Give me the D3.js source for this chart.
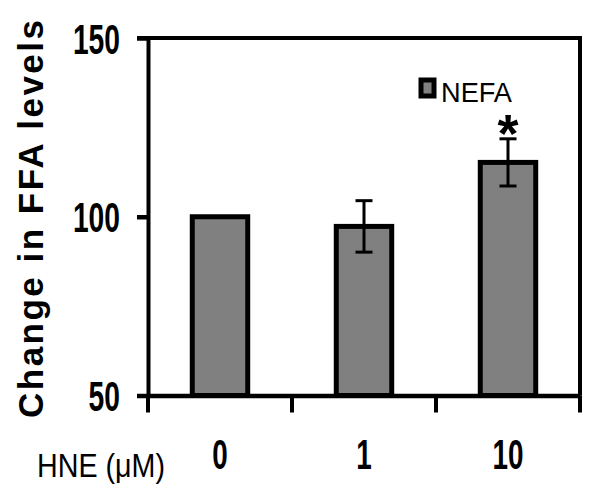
<!DOCTYPE html>
<html><head><meta charset="utf-8">
<script src="https://cdn.jsdelivr.net/npm/d3@7"></script>
<style>body{margin:0;background:#fff}svg{display:block}</style>
</head><body>
<svg id="c" width="602" height="503"></svg>
<script>
const categories = ["0", "1", "10"];
const means = [100, 97.3, 115.2];
const errors = [0, 7.2, 6.6];
const significant = [false, false, true];
const yTicks = [50, 100, 150];
const seriesName = "NEFA";
const xTitle = "HNE (\u03bcM)";
const yTitle = "Change in FFA levels";

const svg = d3.select("#c");
const font = "Arial, 'Liberation Sans', sans-serif";
const L = 148, R = 580, T = 38, B = 395.5;

const x = d3.scaleBand().domain(categories).range([L, R]).padding(0);
const y = d3.scaleLinear().domain([50, 150]).range([B, T]);

// bars
const bw = x.bandwidth() * 0.385;
svg.selectAll("rect.bar").data(categories).join("rect")
  .attr("class", "bar")
  .attr("x", (d) => x(d) + x.bandwidth() / 2 - bw / 2)
  .attr("width", bw)
  .attr("y", (d, i) => y(means[i]))
  .attr("height", (d, i) => B - y(means[i]))
  .attr("fill", "#808080").attr("stroke", "#000").attr("stroke-width", 5);

// error bars
const eb = svg.append("g").attr("stroke", "#000").attr("stroke-width", 3);
categories.forEach((c, i) => {
  if (!errors[i]) return;
  const cx = x(c) + x.bandwidth() / 2;
  eb.append("line").attr("x1", cx).attr("x2", cx).attr("y1", y(means[i] + errors[i])).attr("y2", y(means[i] - errors[i]));
  [1, -1].forEach(s => eb.append("line").attr("x1", cx - 8.5).attr("x2", cx + 8.5)
    .attr("y1", y(means[i] + s * errors[i])).attr("y2", y(means[i] + s * errors[i])));
});

// asterisks
categories.forEach((c, i) => {
  if (!significant[i]) return;
  svg.append("text").attr("x", x(c) + x.bandwidth() / 2).attr("y", y(means[i] + errors[i]) + 13)
    .attr("text-anchor", "middle").attr("font-family", font).attr("font-weight", "bold")
    .attr("font-size", 54).text("*");
});

// frame: top and right
svg.append("line").attr("x1", L - 11).attr("x2", R + 2).attr("y1", T).attr("y2", T).attr("stroke", "#000").attr("stroke-width", 4);
svg.append("line").attr("x1", R).attr("x2", R).attr("y1", T - 2).attr("y2", B).attr("stroke", "#000").attr("stroke-width", 4);

// y axis
const ya = svg.append("g").attr("transform", `translate(${L},0)`)
  .call(d3.axisLeft(y).tickValues(yTicks).tickSize(11).tickSizeOuter(0));
ya.select(".domain").attr("stroke-width", 4);
ya.selectAll(".tick line").attr("stroke-width", 4.5);
ya.selectAll(".tick text")
  .attr("x", -28).attr("dy", null).attr("y", 15)
  .attr("font-family", font).attr("font-weight", "bold").attr("font-size", 42).attr("fill", "#000")
  .attr("textLength", d => String(d).length * 15.7).attr("lengthAdjust", "spacingAndGlyphs");

// x axis
const xa = svg.append("g").attr("transform", `translate(0,${B})`)
  .call(d3.axisBottom(x).tickSize(0).tickSizeOuter(0));
xa.select(".domain").attr("stroke-width", 4.5);
xa.selectAll(".tick text")
  .attr("y", 73).attr("dy", null)
  .attr("font-family", font).attr("font-weight", "bold").attr("font-size", 42).attr("fill", "#000")
  .attr("textLength", d => d.length * 15.5).attr("lengthAdjust", "spacingAndGlyphs");
const bounds = categories.map(c => x(c)).concat([x(categories[categories.length - 1]) + x.bandwidth()]);
xa.selectAll("line.bt").data(bounds).join("line").attr("class", "bt")
  .attr("x1", d => d).attr("x2", d => d).attr("y1", 0).attr("y2", 17)
  .attr("stroke", "#000").attr("stroke-width", 4);

// x title
svg.append("text").attr("x", 37).attr("y", 477)
  .attr("font-family", font).attr("font-size", 33).attr("fill", "#000")
  .attr("textLength", 128).attr("lengthAdjust", "spacingAndGlyphs").text(xTitle);

// y title
svg.append("text").attr("transform", "translate(43,219) rotate(-90)")
  .attr("text-anchor", "middle").attr("font-family", font).attr("font-weight", "bold")
  .attr("font-size", 35).attr("fill", "#000")
  .attr("textLength", 398).attr("lengthAdjust", "spacing").text(yTitle);

// legend
svg.append("rect").attr("x", 421).attr("y", 80).attr("width", 13).attr("height", 16)
  .attr("fill", "#808080").attr("stroke", "#000").attr("stroke-width", 5);
svg.append("text").attr("x", 441).attr("y", 102)
  .attr("font-family", font).attr("font-size", 27).attr("fill", "#000")
  .attr("textLength", 71).attr("lengthAdjust", "spacingAndGlyphs").text(seriesName);
</script>
</body></html>
